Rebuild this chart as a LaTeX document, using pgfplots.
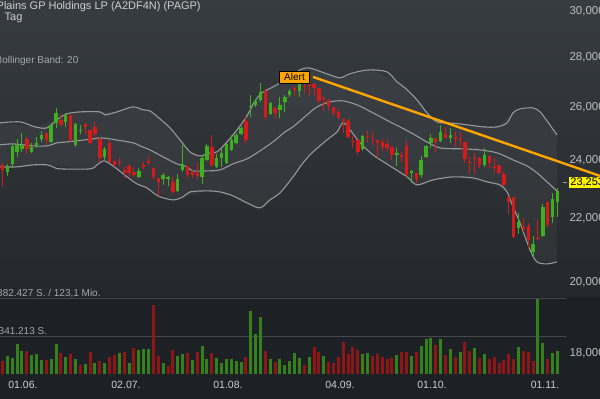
\documentclass[border=0pt]{standalone}
\usepackage{pgfplots}
\pgfplotsset{compat=1.18}
\usepackage{pgfplotstable}
\usepackage{fontspec}
\setmainfont{Liberation Sans}

\definecolor{cgreen}{RGB}{62,176,32}
\definecolor{cred}{RGB}{214,26,26}
\definecolor{vgreen}{RGB}{52,128,26}
\definecolor{vred}{RGB}{142,22,22}
\definecolor{band}{RGB}{150,153,156}
\definecolor{bgtop}{RGB}{55,60,64}
\definecolor{bgbot}{RGB}{36,39,43}
\definecolor{bgvol}{RGB}{29,32,36}
\definecolor{txt}{RGB}{205,207,209}
\definecolor{txtdim}{RGB}{165,168,171}
\definecolor{ticktxt}{RGB}{188,190,192}
\definecolor{gridc}{RGB}{68,71,75}
\definecolor{alertc}{RGB}{255,165,0}

% i open high low close volume up(volume colour)
\pgfplotstableread{
i o h l c v d
0 23840 23911 23070 23662 66300 0
1 23592 23876 23452 23769 91800 1
2 23876 24599 23769 24526 81600 1
3 24307 24783 24126 24563 153000 1
4 24416 25006 24307 24563 117300 1
5 24783 24858 24235 24416 117300 0
6 24307 24636 24271 24489 96900 1
7 24563 24858 24453 24636 102000 1
8 24783 25081 24673 24932 71400 1
9 25006 25006 24563 24746 71400 0
10 24673 25383 24636 25307 76500 1
11 25383 25957 25194 25764 153000 1
12 25496 25726 25269 25307 107100 0
13 25420 25764 25231 25688 86700 1
14 25688 25688 24673 24746 102000 0
15 24563 25383 24489 25345 76500 1
16 25081 25307 24969 25118 45900 0
17 25345 25383 24969 25231 51000 1
18 25118 25118 24599 24636 112200 0
19 25231 25420 24858 24969 56100 1
20 24783 24858 23947 24090 66300 0
21 24126 24489 24018 24416 56100 1
22 24636 24746 23911 23947 86700 0
23 23982 23982 23769 23840 96900 0
24 23947 24090 23804 23911 107100 1
25 23662 23769 23382 23557 112200 0
26 23804 23876 23417 23557 56100 1
27 23592 23769 23417 23487 132600 0
28 23417 23733 23382 23627 122400 1
29 23840 23947 23662 23769 127500 1
30 23982 24162 23840 23911 127500 1
31 23733 23769 23312 23417 351800 0
32 23382 23382 22762 23243 91800 0
33 23347 23557 23139 23487 56100 1
34 23347 23452 23104 23417 40800 0
35 23243 23417 22830 22898 122400 0
36 22932 23522 22898 23347 91800 1
37 23662 24563 23592 23876 102000 1
38 23804 23804 23382 23487 107100 0
39 23592 23662 23382 23487 71400 1
40 23557 23911 23347 23452 112200 0
41 23417 24199 23174 24090 142800 1
42 24018 24599 23982 24526 76500 1
43 24489 24932 23769 23840 107100 0
44 23769 24235 23733 24090 81600 1
45 24090 24453 23769 24271 56100 1
46 23911 24636 23876 24599 76500 1
47 24379 24932 24343 24746 76500 1
48 24636 25006 24599 24932 66300 1
49 24969 25269 24932 25194 61200 1
50 25458 25611 24636 24746 86700 0
51 25996 26466 25611 26035 321200 1
52 26074 26308 25996 26229 204000 1
53 26268 26944 26190 26584 290600 1
54 26624 26703 25496 25611 117300 0
55 25726 26190 25688 26151 76500 1
56 25957 25996 25573 25764 61200 0
57 25879 26387 25573 26074 76500 1
58 26190 26466 25802 26387 45900 1
59 26466 26703 26387 26624 66300 1
60 26743 26823 26426 26663 107100 1
61 26624 26944 26387 26944 81600 1
62 26823 26904 26545 26783 45900 0
63 26864 26904 26426 26823 86700 1
64 26904 26944 26466 26743 137700 0
65 26743 26743 26151 26229 112200 0
66 26347 26426 25841 26308 91800 1
67 26268 26308 25841 26035 61200 0
68 25996 25996 25649 25764 56100 0
69 25802 25918 25534 25573 86700 0
70 25534 25534 25006 25458 163200 0
71 25458 25534 24783 24858 102000 0
72 24709 24895 24453 24673 137700 0
73 24746 24746 24199 24307 122400 0
74 24416 24932 24343 24895 102000 1
75 24895 25081 24673 24858 107100 1
76 24858 25044 24563 24820 91800 0
77 24746 24746 24090 24636 102000 0
78 24673 24783 24343 24489 86700 0
79 24599 24783 24307 24453 76500 0
80 24489 24489 24018 24199 81600 0
81 24199 24453 23804 24271 96900 1
82 24199 24307 23947 24126 112200 0
83 24526 24746 23417 23487 112200 0
84 23557 23662 23208 23627 91800 1
85 23557 23557 23208 23347 112200 0
86 23487 24162 23382 24018 142800 1
87 24126 24563 24090 24526 178500 1
88 24636 24969 24453 24820 183600 1
89 24820 24820 24307 24673 147900 0
90 24709 25307 24673 25044 178500 1
91 24969 25231 24820 24820 96900 0
92 24820 25194 24636 24932 127500 1
93 24858 25044 24489 24783 86700 0
94 24783 25044 24489 24746 112200 1
95 24673 24673 23911 24054 163200 0
96 23947 24126 23522 23911 117300 0
97 24090 24271 23522 24054 132600 1
98 24090 24126 23733 23840 81600 0
99 23840 24453 23769 24199 102000 1
100 24162 24162 23733 23911 76500 0
101 23769 24090 23557 23733 86700 0
102 23840 23840 23522 23557 56100 0
103 23522 23592 23104 23139 71400 0
104 22728 22762 22159 22559 102000 0
105 22728 22728 21379 21411 76500 0
106 21700 22192 21507 21896 137700 1
107 21733 22027 21571 21668 117300 0
108 21765 21863 21031 21315 112200 0
109 20937 21443 20781 21189 66300 0
110 21379 21961 21315 21347 382427 1
111 21443 22492 21411 22392 158100 1
112 22559 22559 21733 21798 76500 0
113 22060 22864 21863 22660 107100 1
114 22559 23035 22060 22932 117300 1
}\ohlc

\pgfplotstableread{
x y
-0.51 25383
3.59 25420
6.68 25231
9.14 25194
11.40 25534
13.25 25726
15.92 25802
20.03 25802
21.06 25688
23.52 25802
26.81 25996
28.86 25879
30.30 25841
32.35 25534
34.41 25194
36.46 24746
38.52 24307
40.57 24162
42.63 24271
44.06 24307
46.12 24673
48.17 25118
50.22 25649
51.87 26229
53.31 26545
55.57 26783
58.44 27105
61.11 27471
62.55 27554
63.78 27512
66.66 27308
69.33 27145
70.77 27267
72.82 27390
75.49 27471
78.98 27390
81.04 26984
82.68 26743
85.15 26268
87.20 25764
89.25 25420
91.31 25383
93.98 25345
98.71 25231
101.58 25231
103.64 25383
104.87 25764
106.31 25918
108.98 25957
110.42 25802
111.85 25458
113.90 24932
}\bbupper

\pgfplotstableread{
x y
-0.51 24563
2.16 24599
6.27 24526
9.14 24526
11.20 24636
13.25 24673
18.59 24783
20.03 24820
22.08 24783
26.81 24636
28.25 24526
30.30 24379
32.97 24126
35.85 23876
37.90 23769
39.13 23627
42.01 23627
44.68 23662
47.35 23876
50.22 24054
52.90 24343
55.57 24673
58.04 25044
59.68 25231
62.55 25688
64.60 25996
67.27 26190
69.95 26229
72.82 26074
76.11 25764
79.60 25420
81.66 25231
84.33 24969
86.79 24709
89.87 24453
94.60 24416
98.09 24379
101.58 24271
104.87 24018
107.74 23804
109.80 23557
111.85 23243
113.90 22932
}\bbmiddle

\pgfplotstableread{
x y
-0.51 23769
2.98 23769
6.27 23840
9.14 23840
10.37 23769
11.81 23698
17.97 23698
19.41 23840
20.85 23982
22.70 23804
25.58 23417
27.63 23174
29.68 23035
31.94 22762
35.02 22626
37.08 22728
38.52 22898
42.01 22932
44.68 22898
47.35 22762
50.22 22526
52.90 22358
54.95 22626
57.01 22864
59.68 23417
61.73 23911
63.78 24307
66.66 24746
68.71 25044
69.95 25383
71.39 25118
73.44 24636
76.11 24199
79.60 23804
83.09 23417
85.15 23139
88.43 23312
92.54 23417
96.65 23382
99.53 23243
102.20 23139
103.64 22898
104.87 22392
106.31 21863
108.36 20999
109.80 20627
111.85 20565
113.90 20627
}\bblower

% band area: upper band left to right, then lower band right to left
\pgfplotstableread{
x y
-0.51 25383
6.68 25231
11.40 25534
15.92 25802
23.52 25802
26.81 25996
30.30 25841
34.41 25194
38.52 24307
40.57 24162
44.06 24307
48.17 25118
51.87 26229
55.57 26783
61.11 27471
63.78 27512
69.33 27145
75.49 27471
81.04 26984
85.15 26268
89.25 25420
93.98 25345
101.58 25231
104.87 25764
108.98 25957
111.85 25458
113.90 24932
113.90 20627
109.80 20627
106.31 21863
103.64 22898
99.53 23243
92.54 23417
85.15 23139
79.60 23804
73.44 24636
69.95 25383
66.66 24746
61.73 23911
57.01 22864
52.90 22358
47.35 22762
42.01 22932
35.02 22626
29.68 23035
25.58 23417
20.85 23982
17.97 23698
9.14 23840
-0.51 23769
}\bbarea

\begin{document}
\begin{tikzpicture}
\useasboundingbox (0pt,0pt) rectangle (600pt,399pt);
\clip (0pt,0pt) rectangle (600pt,399pt);
\shade[top color=bgtop, bottom color=bgbot] (0pt,102pt) rectangle (600pt,399pt);
\fill[bgvol] (0pt,0pt) rectangle (600pt,102pt);

% ---------- price pane ----------
\begin{axis}[
  at={(0pt,24pt)}, anchor=south west, scale only axis,
  width=566pt, height=375pt,
  xmin=-0.5136, xmax=115.756,
  ymode=log, ymin=17425.6, ymax=30496.6,
  clip=false,
  axis line style={draw=none}, tick style={draw=none},
  xtick=\empty,
  ytick={18000,20000,22000,24000,26000,28000,30000},
  yticklabels={{18,000},{20,000},{22,000},{24,000},{26,000},{28,000},{30,000}},
  ytick pos=right, yticklabel pos=right,
  yticklabel style={font=\fontsize{11.5}{13}\selectfont, text=ticktxt, anchor=west},
]
\addplot[fill=white, fill opacity=0.045, draw=none] table[x=x,y=y]{\bbarea} -- cycle;
\addplot[band, line width=1.1pt, smooth] table[x=x,y=y]{\bbupper};
\addplot[band, line width=1.1pt, smooth] table[x=x,y=y]{\bbmiddle};
\addplot[band, line width=1.1pt, smooth] table[x=x,y=y]{\bblower};

\pgfplotsforeachungrouped \k in {0,...,114}{%
  \pgfplotstablegetelem{\k}{o}\of{\ohlc}\let\myo\pgfplotsretval
  \pgfplotstablegetelem{\k}{h}\of{\ohlc}\let\myh\pgfplotsretval
  \pgfplotstablegetelem{\k}{l}\of{\ohlc}\let\myl\pgfplotsretval
  \pgfplotstablegetelem{\k}{c}\of{\ohlc}\let\myc\pgfplotsretval
  \ifnum\myc<\myo\relax \def\mycol{cred}\else\def\mycol{cgreen}\fi
  \edef\tmp{%
    \noexpand\addplot[draw=\mycol, line width=1pt] coordinates {(\k,\myl) (\k,\myh)};%
    \noexpand\addplot[draw=\mycol, line width=3.4pt] coordinates {(\k,\myo) (\k,\myc)};%
  }\tmp
}

\addplot[alertc, line width=2.4pt] coordinates {(63.78,27185) (122.74,23452)};
\end{axis}

% ---------- volume pane ----------
\begin{axis}[
  at={(0pt,25pt)}, anchor=south west, scale only axis,
  width=566pt, height=77pt,
  xmin=-0.5136, xmax=115.756,
  ymin=0, ymax=392623,
  clip=false,
  axis line style={draw=none}, tick style={draw=none},
  ytick=\empty,
  xtick={4.21,25.37,46.32,69.33,88.23,111.44},
  xticklabels={01.06.,02.07.,01.08.,04.09.,01.10.,01.11.},
  xticklabel style={font=\fontsize{10.5}{12}\selectfont, text=txt, anchor=base, yshift=-14.3pt},
]
\addplot[gridc, line width=1pt] coordinates {(-0.5136,382427) (115.756,382427)};
\addplot[gridc, line width=1pt] coordinates {(-0.5136,191213) (115.756,191213)};
\pgfplotsforeachungrouped \k in {0,...,114}{%
  \pgfplotstablegetelem{\k}{v}\of{\ohlc}\let\myv\pgfplotsretval
  \pgfplotstablegetelem{\k}{d}\of{\ohlc}\let\myd\pgfplotsretval
  \ifnum\myd=1\relax \def\mycol{vgreen}\else\def\mycol{vred}\fi
  \edef\tmp{%
    \noexpand\addplot[draw=\mycol, line width=3pt] coordinates {(\k,0) (\k,\myv)};%
  }\tmp
}
\end{axis}

% ---------- texts ----------
\node[anchor=base west, inner sep=0, text=txt, font=\fontsize{11}{13}\selectfont] at (-3.5pt,389pt) {Plains GP Holdings LP (A2DF4N) (PAGP)};
\node[anchor=base west, inner sep=0, text=txt, font=\fontsize{11}{13}\selectfont] at (4.5pt,378.5pt) {Tag};
\node[anchor=base west, inner sep=0, text=txtdim, font=\fontsize{10}{12}\selectfont] at (-4.5pt,335pt) {Bollinger Band: 20};
\node[anchor=base west, inner sep=0, text=txtdim, font=\fontsize{10}{12}\selectfont] at (-3pt,102.3pt) {382.427 S. / 123,1 Mio.};
\node[anchor=base west, inner sep=0, text=txtdim, font=\fontsize{10}{12}\selectfont] at (-1.5pt,64pt) {341.213 S.};

\node[fill=alertc, draw=black, line width=0.8pt, inner sep=0pt, minimum width=30pt, minimum height=12pt, text=black, font=\fontsize{10}{12}\selectfont] at (294.5pt,322pt) {Alert};

\draw[band, line width=0.8pt] (562.5pt,216.8pt) -- (566.5pt,216.8pt);
\node[fill=yellow, anchor=west, inner sep=1.2pt, minimum height=11pt, text=black, font=\fontsize{11}{12}\selectfont] at (569pt,216.5pt) {23,253};
\end{tikzpicture}
\end{document}
